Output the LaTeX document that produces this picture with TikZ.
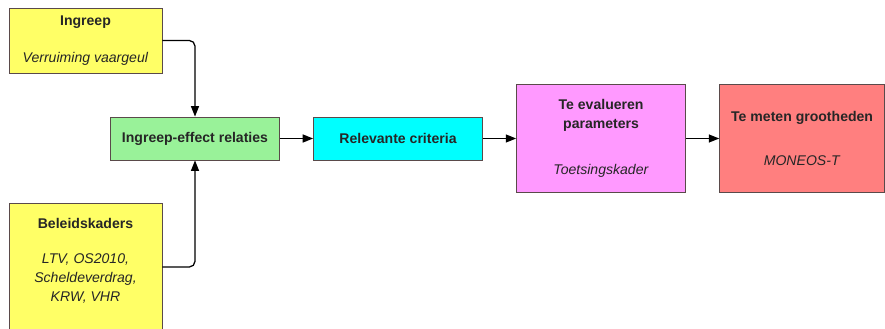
\documentclass[tikz,border=0pt]{standalone}
\usepackage{fontspec}
\setmainfont{Liberation Sans}
\usetikzlibrary{arrows.meta,positioning}
\definecolor{geel}{HTML}{FFFF66}
\definecolor{groen}{HTML}{99F299}
\definecolor{cyaan}{HTML}{00FFFF}
\definecolor{paars}{HTML}{FF99FF}
\definecolor{rood}{HTML}{FF7F7F}
\definecolor{rand}{HTML}{5A4A4A}
\tikzset{
  box/.style={draw=rand, line width=0.6pt, rectangle, align=center, inner sep=3pt, font=\fontsize{10}{13.5}\selectfont, text=black!85},
  kader/.style={box, fill=geel, minimum width=3.825cm},
  blok/.style={box, minimum width=4.225cm, minimum height=1.075cm},
  hoog/.style={box, minimum width=4.225cm, minimum height=2.7cm},
  arr/.style={-{Triangle[length=2.6mm,width=2mm]}, line width=0.9pt},
  bocht/.style={arr, rounded corners=4pt}
}
\begin{document}
\begin{tikzpicture}[node distance=8.3mm]
\useasboundingbox (0,0) rectangle (22.125,-8.225);
\clip (0,0) rectangle (22.125,-8.225);
\node[blok, fill=groen] (effect) at (4.875,-3.4625) {\textbf{Ingreep-effect relaties}};
\node[blok, fill=cyaan, right=of effect] (criteria) {\textbf{Relevante criteria}};
\node[hoog, fill=paars, right=of criteria] (param) {\textbf{Te evalueren}\\\textbf{parameters}\\[19.6pt]\textit{Toetsingskader}};
\node[hoog, fill=rood, minimum width=4.125cm, right=of param] (meten) {\textbf{Te meten grootheden}\\[17.7pt]\textit{MONEOS-T}};
\node[kader, minimum height=1.625cm] (ingreep) at (2.1375,-1.0125) {\textbf{Ingreep}\\[12.7pt]\textit{Verruiming vaargeul}};
\node[kader, minimum height=3.2cm] (beleid) at (2.1375,-6.675) {\textbf{Beleidskaders}\\[11.3pt]\textit{LTV, OS2010,}\\\textit{Scheldeverdrag,}\\\textit{KRW, VHR}\\[-3pt]\mbox{}};
\foreach \s/\t in {effect/criteria,criteria/param,param/meten} \draw[arr] (\s) -- (\t);
\draw[bocht] (ingreep.east) -| (effect.north);
\draw[bocht] (beleid.east) -| (effect.south);
\end{tikzpicture}
\end{document}
